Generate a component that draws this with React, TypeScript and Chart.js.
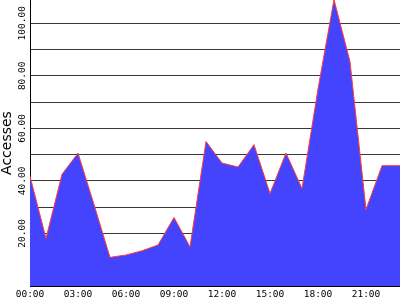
import React, { useEffect, useRef } from "react";
import { Chart, registerables } from "chart.js";

Chart.register(...registerables);

const hours = [0, 1, 2, 3, 4, 5, 6, 7, 8, 9, 10, 11, 12, 13, 14, 15, 16, 17, 18, 19, 20, 21, 22, 23, 24];
const accesses = [41.8, 18.1, 42.5, 50.6, 31, 10.9, 11.8, 13.4, 15.6, 26.1, 14.9, 55, 46.8, 45.3, 53.8, 35.2, 50.6, 37.1, 75, 109, 85.4, 29.1, 45.8, 45.8, 45.8];
const xTickHours = [0, 3, 6, 9, 12, 15, 18, 21];
const yTickValues = [20, 40, 60, 80, 100];
const yTitle = "Accesses";

const MONO = "'DejaVu Sans Mono', monospace";

const yLabelPlugin = {
  id: "yLabels",
  afterDraw(chart: any) {
    const scale = chart.scales.y;
    const ctx = chart.ctx;
    ctx.save();
    ctx.fillStyle = "#000";
    ctx.font = "9.5px " + MONO;
    ctx.textAlign = "center";
    ctx.textBaseline = "middle";
    for (const v of yTickValues) {
      const py = scale.getPixelForValue(v);
      ctx.save();
      ctx.translate(scale.right - 7, py);
      ctx.rotate(-Math.PI / 2);
      ctx.fillText(v.toFixed(2), 0, 0);
      ctx.restore();
    }
    ctx.restore();
  },
};

export default function App() {
  const ref = useRef<HTMLCanvasElement>(null);
  useEffect(() => {
    document.body.style.margin = "0";
    const chart = new Chart(ref.current!, {
      type: "line",
      data: {
        datasets: [
          {
            data: hours.map((h, i) => ({ x: h, y: accesses[i] })),
            borderColor: "#ff3b3b",
            backgroundColor: "#4444ff",
            borderWidth: 1,
            fill: "origin",
            pointRadius: 0,
            tension: 0,
          },
        ],
      },
      options: {
        animation: false,
        responsive: false,
        maintainAspectRatio: false,
        layout: { padding: 0 },
        plugins: { legend: { display: false }, tooltip: { enabled: false } },
        scales: {
          x: {
            type: "linear",
            min: 0,
            max: 23.125,
            afterBuildTicks: (s: any) => {
              s.ticks = xTickHours.map((h) => ({ value: h }));
            },
            afterFit: (s: any) => {
              s.height = 14;
            },
            grid: { display: false, drawTicks: false },
            border: { display: true, color: "#000", width: 1 },
            ticks: {
              autoSkip: false,
              maxRotation: 0,
              padding: 3,
              color: "#000",
              font: { family: MONO, size: 9.5 },
              callback: (v: any) => String(v).padStart(2, "0") + ":00",
            },
          },
          y: {
            type: "linear",
            min: 0,
            max: 108.85,
            z: 1,
            afterBuildTicks: (s: any) => {
              s.ticks = s.ticks.filter((t: any) => t.value % 10 === 0);
            },
            afterFit: (s: any) => {
              s.width = 30;
            },
            grid: { color: "#383838", lineWidth: 1, drawTicks: false },
            border: { display: true, color: "#000", width: 1 },
            ticks: { display: false, stepSize: 10 },
            title: {
              display: true,
              text: yTitle,
              color: "#000",
              font: { family: "'DejaVu Sans', sans-serif", size: 14, lineHeight: 1 },
              padding: { top: 0, bottom: 0 },
            },
          },
        },
      },
      plugins: [yLabelPlugin],
    });
    return () => chart.destroy();
  }, []);
  return (
    <div style={{ position: "fixed", left: 0, top: 0, width: 400, height: 300, background: "#fff" }}>
      <canvas ref={ref} width={400} height={300} style={{ display: "block" }} />
    </div>
  );
}
